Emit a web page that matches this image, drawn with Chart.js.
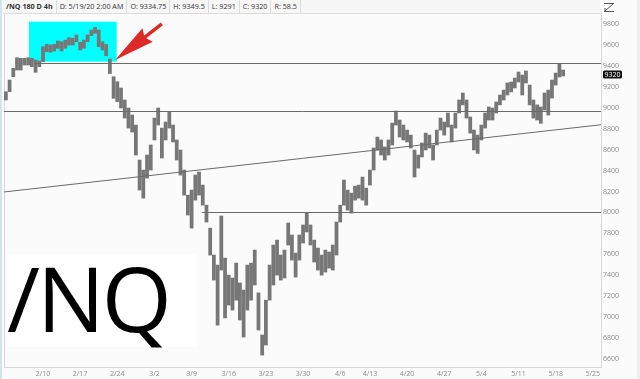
<!DOCTYPE html>
<html>
<head>
<meta charset="utf-8">
<script src="https://cdn.jsdelivr.net/npm/chart.js@4.4.0/dist/chart.umd.min.js"></script>
<style>
  body { margin: 0; width: 640px; height: 379px; overflow: hidden; background: #fbfbfb; position: relative; font-family: "Open Sans", "Noto Sans", sans-serif; }
  #chart { position: absolute; left: 0; top: 0; }
  #edge { position: absolute; left: 0; top: 0; width: 2px; height: 379px; background: #cfe4f6; }
  #scroll { position: absolute; right: 0; top: 0; width: 3px; height: 379px; background: #efefef; }
  #header { position: absolute; left: 3px; top: 0; right: 39px; height: 13px; border-bottom: 1px solid #dcdcdc; background: #f7f7f7; display: flex; }
  #header div { font-size: 7.2px; line-height: 13px; color: #333; padding: 0 3px; border-right: 1px solid #dcdcdc; white-space: nowrap; }
  #header div:first-child { font-weight: bold; }
  #bigbox { position: absolute; left: 7px; top: 254px; width: 190px; height: 93px; background: #fff; }
  #bigbox span { position: absolute; left: 0px; top: -2px; font-size: 90px; line-height: 90px; color: #000; font-family: "Open Sans", sans-serif; letter-spacing: -3px; }
</style>
</head>
<body>
<canvas id="chart" width="640" height="379"></canvas>
<div id="edge"></div>
<div id="scroll"></div>
<div id="header"></div>
<div id="bigbox"><span>/NQ</span></div>
<script>
// trading-day index of each half-day bar (0 = Mon 2/10)
const sessionDay = [
  -5, -4.5, -4, -3.5, -3, -2.5, -2, -1.5, -1, -0.5,
  0, 0.5, 1, 1.5, 2, 2.5, 3, 3.5, 4, 4.5,
  5, 5.5, 6, 6.5, 7, 7.5, 8, 8.5, 9, 9.5,
  10, 10.5, 11, 11.5, 12, 12.5, 13, 13.5, 14, 14.5,
  15, 15.5, 16, 16.5, 17, 17.5, 18, 18.5, 19, 19.5,
  20, 20.5, 21, 21.5, 22, 22.5, 23, 23.5, 24, 24.5,
  25, 25.5, 26, 26.5, 27, 27.5, 28, 28.5, 29, 29.5,
  30, 30.5, 31, 31.5, 32, 32.5, 33, 33.5, 34, 34.5,
  35, 35.5, 36, 36.5, 37, 37.5, 38, 38.5, 39, 39.5,
  40, 40.5, 41, 41.5, 42, 42.5, 43, 43.5, 44, 44.5,
  45, 45.5, 46, 46.5, 47, 47.5, 48, 48.5, 49, 49.5,
  50, 50.5, 51, 51.5, 52, 52.5, 53, 53.5, 54, 54.5,
  55, 55.5, 56, 56.5, 57, 57.5, 58, 58.5, 59, 59.5,
  60, 60.5, 61, 61.5, 62, 62.5, 63, 63.5, 64, 64.5,
  65, 65.5, 66, 66.5, 67, 67.5, 68, 68.5, 69, 69.5,
  70
];
const barHigh = [
  9156, 9268, 9380, 9482, 9476, 9476, 9482, 9476, 9460, 9450,
  9587, 9610, 9604, 9610, 9642, 9635, 9651, 9674, 9668, 9700,
  9629, 9651, 9700, 9747, 9773, 9747, 9635, 9610, 9470, 9300,
  9252, 9192, 9077, 9000, 8933, 8837, 8502, 8406, 8550, 8646,
  8904, 9000, 8808, 8866, 8962, 8837, 8694, 8598, 8406, 8166,
  8214, 8358, 8387, 8262, 8070, 7850, 7592, 7496, 7966, 7563,
  7400, 7372, 7515, 7325, 7257, 7496, 7515, 7640, 7230, 6826,
  7160, 7496, 7688, 7735, 7592, 7640, 7899, 7784, 7611, 7784,
  7880, 7995, 7880, 7735, 7659, 7592, 7640, 7621, 7688, 7908,
  8070, 8310, 8214, 8185, 8252, 8262, 8339, 8233, 8406, 8617,
  8722, 8694, 8627, 8694, 8856, 8971, 8885, 8837, 8789, 8741,
  8598, 8550, 8665, 8760, 8741, 8646, 8789, 8904, 8866, 8952,
  8837, 8952, 9077, 9144, 9077, 8914, 8789, 8741, 8837, 8952,
  9010, 9000, 9058, 9125, 9172, 9240, 9249, 9287, 9345, 9316,
  9355, 9220, 9077, 9030, 9010, 9144, 9172, 9268, 9335, 9428,
  9364
];
const barLow = [
  9077, 9156, 9300, 9364, 9364, 9412, 9412, 9396, 9342, 9396,
  9444, 9540, 9534, 9546, 9572, 9546, 9572, 9604, 9604, 9635,
  9556, 9572, 9635, 9693, 9716, 9587, 9556, 9500, 9330, 9093,
  9060, 9000, 8904, 8808, 8770, 8550, 8214, 8137, 8329, 8406,
  8694, 8837, 8521, 8694, 8808, 8675, 8502, 8358, 8166, 7975,
  7850, 8118, 8166, 8070, 7908, 7592, 7352, 6921, 7448, 6990,
  7113, 7065, 7160, 6970, 6807, 7065, 7160, 7305, 6874, 6634,
  6730, 7160, 7305, 7400, 7352, 7372, 7688, 7544, 7381, 7544,
  7707, 7813, 7688, 7525, 7448, 7400, 7429, 7467, 7448, 7592,
  7908, 8070, 8022, 7994, 8118, 8137, 8118, 8070, 8262, 8406,
  8598, 8550, 8502, 8550, 8646, 8837, 8722, 8694, 8675, 8617,
  8339, 8425, 8531, 8598, 8617, 8502, 8646, 8789, 8741, 8818,
  8675, 8808, 8952, 9030, 8904, 8760, 8598, 8566, 8694, 8808,
  8885, 8885, 8952, 9030, 9077, 9125, 9154, 9192, 9249, 9125,
  9240, 9030, 8904, 8885, 8853, 8981, 8933, 9096, 9220, 9297,
  9307
];
const lastClose = 9320;

const tickDay = [0, 5, 10, 15, 20, 25, 30, 35, 40, 44, 49, 54, 59, 64, 69, 74];
const tickLabel = ['2/10', '2/17', '2/24', '3/2', '3/9', '3/16', '3/23', '3/30', '4/6', '4/13', '4/20', '4/27', '5/4', '5/11', '5/18', '5/25'];
const priceTicks = [6600, 6800, 7000, 7200, 7400, 7600, 7800, 8000, 8200, 8400, 8600, 8800, 9000, 9200, 9400, 9600, 9800];

const headerCells = ['/NQ 180 D 4h', 'D: 5/19/20 2:00 AM', 'O: 9334.75', 'H: 9349.5', 'L: 9291', 'C: 9320', 'R: 58.5'];

// drawn levels (price, first day where the line starts)
const levelPrice = [9428, 8971, 8000];
const levelFrom = [-1.1, -5.3, 21.4];
const trendFrom = { day: -5.25, price: 8196 };
const trendTo = { day: 75.1, price: 8840 };
const boxFrom = { day: -1.88, price: 9444 };
const boxTo = { day: 9.92, price: 9827 };
const arrowTail = { day: 16.0, price: 9805 };
const arrowTip = { day: 9.7, price: 9460 };

const hdr = document.getElementById('header');
headerCells.forEach(t => {
  const d = document.createElement('div');
  d.textContent = t;
  hdr.appendChild(d);
});

const drawings = {
  id: 'drawings',
  beforeDatasetsDraw(chart) {
    const { ctx, chartArea, scales: { x, y } } = chart;
    ctx.save();
    // cyan highlight box
    ctx.fillStyle = '#00ffff';
    const bx = x.getPixelForValue(boxFrom.day), by = y.getPixelForValue(boxTo.price);
    ctx.fillRect(bx, by, x.getPixelForValue(boxTo.day) - bx, y.getPixelForValue(boxFrom.price) - by);
    // left border of plot
    ctx.strokeStyle = '#d8d8d8';
    ctx.lineWidth = 1;
    ctx.beginPath();
    ctx.moveTo(chartArea.left + 0.5, chartArea.top);
    ctx.lineTo(chartArea.left + 0.5, chartArea.bottom);
    ctx.stroke();
    ctx.restore();
  },
  afterDatasetsDraw(chart) {
    const { ctx, chartArea, scales: { x, y } } = chart;
    ctx.save();
    ctx.beginPath();
    ctx.rect(chartArea.left, chartArea.top, chartArea.right - chartArea.left, chartArea.bottom - chartArea.top);
    ctx.clip();
    ctx.strokeStyle = '#6a6a6a';
    ctx.lineWidth = 1;
    levelPrice.forEach((p, i) => {
      const py = Math.round(y.getPixelForValue(p)) + 0.5;
      ctx.beginPath();
      ctx.moveTo(x.getPixelForValue(levelFrom[i]), py);
      ctx.lineTo(chartArea.right, py);
      ctx.stroke();
    });
    ctx.beginPath();
    ctx.moveTo(x.getPixelForValue(trendFrom.day), y.getPixelForValue(trendFrom.price));
    ctx.lineTo(x.getPixelForValue(trendTo.day), y.getPixelForValue(trendTo.price));
    ctx.stroke();

    // red arrow
    const tx = x.getPixelForValue(arrowTip.day), ty = y.getPixelForValue(arrowTip.price);
    const sx = x.getPixelForValue(arrowTail.day), sy = y.getPixelForValue(arrowTail.price);
    const ang = Math.atan2(sy - ty, sx - tx);
    const len = Math.hypot(sx - tx, sy - ty);
    ctx.translate(tx, ty);
    ctx.rotate(ang);
    ctx.fillStyle = '#dc2b27';
    ctx.beginPath();
    ctx.moveTo(0, 0);
    ctx.lineTo(41, -8.5);
    ctx.lineTo(38, -1.7);
    ctx.lineTo(len, -1.7);
    ctx.lineTo(len, 1.7);
    ctx.lineTo(38, 1.7);
    ctx.lineTo(41, 8.5);
    ctx.closePath();
    ctx.fill();
    ctx.restore();
  },
  afterDraw(chart) {
    const { ctx, chartArea, scales: { y } } = chart;
    ctx.save();
    // last price tag
    const py = y.getPixelForValue(lastClose);
    ctx.fillStyle = '#111';
    ctx.beginPath();
    ctx.roundRect(chartArea.right + 2, py - 4, 19, 8, 1.5);
    ctx.fill();
    ctx.fillStyle = '#fff';
    ctx.font = '7px "Open Sans", sans-serif';
    ctx.textBaseline = 'middle';
    ctx.fillText(String(lastClose), chartArea.right + 3.5, py + 0.5);
    // small zoom icon top right
    ctx.strokeStyle = '#555';
    ctx.lineWidth = 1;
    const ix = chartArea.right + 3, iy = 3;
    ctx.beginPath();
    ctx.moveTo(ix, iy + 0.5); ctx.lineTo(ix + 10, iy + 0.5);
    ctx.moveTo(ix + 9, iy + 1); ctx.lineTo(ix + 1, iy + 8);
    ctx.moveTo(ix, iy + 8.5); ctx.lineTo(ix + 10, iy + 8.5);
    ctx.moveTo(ix + 1, iy + 5); ctx.lineTo(ix + 1, iy + 8);
    ctx.stroke();
    ctx.restore();
  }
};

new Chart(document.getElementById('chart'), {
  type: 'bar',
  data: {
    datasets: [{
      data: sessionDay.map((d, i) => ({ x: d, y: [barLow[i], barHigh[i]] })),
      backgroundColor: '#777777',
      borderWidth: 0,
      barThickness: 3.1
    }]
  },
  options: {
    responsive: false,
    animation: false,
    layout: { padding: { left: 4, top: 13, right: 0, bottom: 0 } },
    plugins: { legend: { display: false }, tooltip: { enabled: false } },
    scales: {
      x: {
        type: 'linear',
        offset: false,
        min: -5.25,
        max: 75.1,
        grid: { display: false, drawTicks: false },
        border: { color: '#d8d8d8' },
        afterBuildTicks: s => { s.ticks = tickDay.map(v => ({ value: v })); },
        afterFit: s => { s.height = 12; },
        ticks: {
          autoSkip: false,
          maxRotation: 0,
          padding: 3,
          color: '#8a8a8a',
          font: { size: 7, family: '"Open Sans", sans-serif' },
          callback: v => tickLabel[tickDay.indexOf(v)]
        }
      },
      y: {
        position: 'right',
        min: 6520,
        max: 9910,
        grid: { display: false, drawTicks: false },
        border: { color: '#d8d8d8' },
        afterBuildTicks: s => { s.ticks = priceTicks.map(v => ({ value: v })); },
        afterFit: s => { s.width = 39; },
        ticks: {
          padding: 2,
          color: '#8a8a8a',
          font: { size: 7, family: '"Open Sans", sans-serif' },
          callback: v => String(v)
        }
      }
    }
  },
  plugins: [drawings]
});
</script>
</body>
</html>
